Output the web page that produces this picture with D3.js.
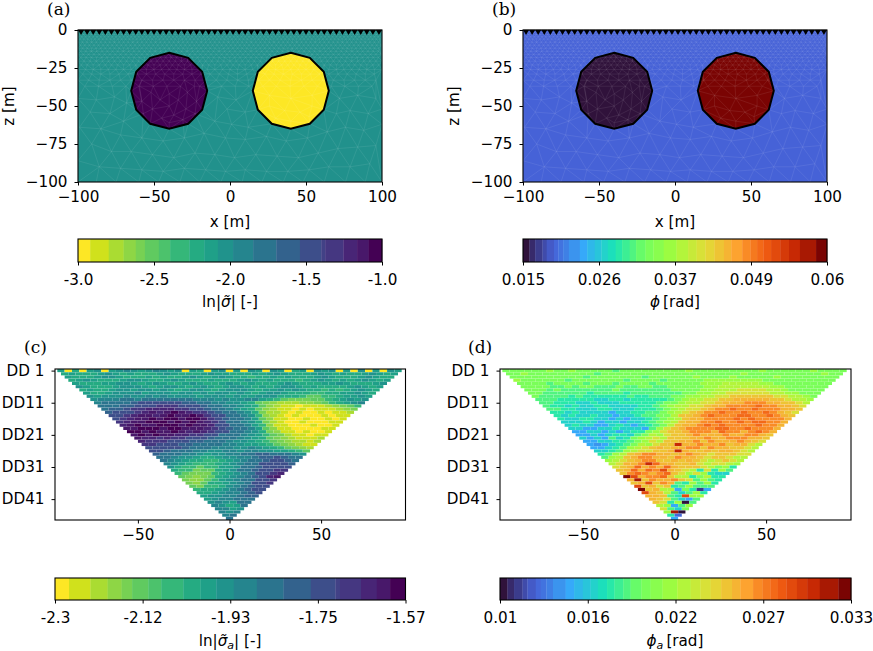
<!DOCTYPE html>
<html><head><meta charset="utf-8">
<script src="https://cdn.jsdelivr.net/npm/d3@7"></script>
<style>
html,body{margin:0;padding:0;background:#fff}
svg{display:block}
text{font-family:"DejaVu Sans",sans-serif;fill:#000}
</style></head><body><svg id="c" width="873" height="651"></svg>
<script>
// ---------- data ----------
const modelXTicks=[-100,-50,0,50,100];
const modelZTicks=[0,-25,-50,-75,-100];
const pseudoXTicks=[-50,0,50];
const levelTicks=[1,11,21,31,41];
const levelLabels=["DD 1","DD11","DD21","DD31","DD41"];
const sigmaBarLabels=["-3.0","-2.5","-2.0","-1.5","-1.0"];
const phiBarLabels=["0.015","0.026","0.037","0.049","0.06"];
const sigmaABarLabels=["-2.3","-2.12","-1.93","-1.75","-1.57"];
const phiABarLabels=["0.01","0.016","0.022","0.027","0.033"];
const sigmaRange=[-3,-1], phiRange=[0.015,0.06], sigmaARange=[-2.3,-1.57], phiARange=[0.01,0.033];
const sigmaBackground=-2, phiBackground=0.0195;
const bodyLeftSigma=-1, bodyRightSigma=-3, bodyLeftPhi=0.015, bodyRightPhi=0.06;
const turboStops=["#30123b","#4662d7","#36aaf9","#1ae4b6","#72fe5e","#a4fc3c","#e1dd37","#fda531","#f05b12","#c42503","#7a0403"];
const viridisEdges=[.04,.101,.15,.19,.22,.266,.303,.366,.415,.46,.51,.576,.652,.73,.80,.813,.873,.918,.956];
const turboEdges=[.021,.04,.064,.078,.102,.116,.132,.151,.187,.211,.236,.258,.279,.305,.326,.351,.372,.403,.429,.463,.505,.543,.571,.6,.63,.661,.685,.721,.748,.77,.791,.816,.846,.875,.911,.964];
const bodyLeft=[[-40,-15],[-27.5,-18.3],[-18.3,-27.5],[-15,-40],[-18.3,-52.5],[-27.5,-61.7],[-40,-65],[-52.5,-61.7],[-61.7,-52.5],[-65,-40],[-61.7,-27.5],[-52.5,-18.3]];
const bodyRight=[[40,-15],[52.5,-18.3],[61.7,-27.5],[65,-40],[61.7,-52.5],[52.5,-61.7],[40,-65],[27.5,-61.7],[18.3,-52.5],[15,-40],[18.3,-27.5],[27.5,-18.3]];
const electrodes=[-98,-94,-90,-86,-82,-78,-74,-70,-66,-62,-58,-54,-50,-46,-42,-38,-34,-30,-26,-22,-18,-14,-10,-6,-2,2,6,10,14,18,22,26,30,34,38,42,46,50,54,58,62,66,70,74,78,82,86,90,94,98];
const meshDepths=[-1.5,-3,-4.5,-6,-8,-10,-12,-14,-16,-18,-20.5,-23,-26,-29,-33,-37];
const meshSteps=[2.5,2.5,2.5,2.5,3,3,3,3.5,3.5,3.5,4,4,5,6,7,9];
const meshFar=[[-100,-45],[-88,-46],[-76,-44],[-68,-48],[-8,-44],[4,-46],[-2,-52],[10,-54],[72,-45],[84,-43],[96,-45],
[-92,-54],[-79,-55],[-70,-60],[-10,-60],[1,-62],[12,-64],[70,-55],[79,-53],[91,-55],[100,-52],
[-99,-64],[-85,-65],[-72,-69],[-58,-71],[-44,-73],[-30,-71],[-17,-68],[-3,-71],[10,-72],[24,-70],[37,-73],[51,-71],[64,-67],[76,-64],[88,-66],[100,-62],
[-91,-75],[-78,-80],[-65,-80],[-51,-82],[-37,-84],[-23,-81],[-10,-82],[3,-84],[17,-82],[31,-83],[45,-84],[58,-81],[71,-78],[84,-77],[96,-76],
[-100,-86],[-86,-90],[-72,-91],[-58,-92],[-44,-93],[-30,-91],[-16,-92],[-3,-93],[10,-92],[24,-93],[38,-93],[52,-92],[65,-90],[79,-90],[92,-88],
[-100,-100],[-88,-100],[-75,-100],[-60,-100],[-47,-100],[-33,-100],[-20,-100],[-6,-100],[8,-100],[21,-100],[35,-100],[48,-100],[62,-100],[76,-100],[89,-100],[100,-100]];
const meshInner=[[-20,-37],[-60,-37],[-28,-41],[-52,-41],[-40,-42],[-34,-46],[-46,-46],[-22,-47],[-58,-47],[-40,-50],[-29,-52],[-51,-52],[-23,-55],[-57,-55],[-37,-56],[-45,-58],[-31,-59],[-40,-61],
[26,-43],[54,-43],[40,-45],[26,-50],[54,-50],[36,-53],[46,-54],[30,-58],[40,-60],[52,-57]];
const sigmaRows=[
"iahaijaijk jijkjijaih aijaiajiaj iahiajijai ajaiaji",
"hihhhijihi hhhijihhhi jiihhhihij ihhhijihih hijihi",
"ihhhijjihh hihihhijih ijihhghhih ihhhijihhh ijihh",
"hijihhhijj ihhijihhhi hhhijihihh hghijihihi jihi",
"ihhhiijjih ijihhijihh ijihihhhij ihhhiijihh hij",
"jihhhijjji hijjihijih ijjihihijj ihihhhhiji hi",
"hihhijjijj ijihijjihi jjjihiijij ihhghghiji h",
"ihhijjjkij jjijjijijj ijihijjihh hgghhiijih",
"jijjjkjjkj kjjjjijjji jiijjjhhhg ffgghiiji",
"jkkkllklml lmllkkkjkj jkkihgfeee ffghijij",
"kllmmnooop oonnmlkkjj ihfedcccdd efghijk",
"lmmnnoppqq qpponmlkkj ihfdcbbabb bcdefg",
"mnnoqqrrrr qqponmlkji hfdcbbabab bbcde",
"noopqrsrst srqqonmlkj heccbabaab abbc",
"opqrssrsts stsqpomlkj gdcbabaaab abb",
"pqrsststts ttsqpnmlki fdbbaabaab ab",
"qrsstttsts tsrqomlkjh ecbaabaaab b",
"rstsstttst ssrpomlkig dbbaaabaab",
"sstttsttss srqonmlkif dbbaaaabb",
"ttstsstsrs rqpommkjhe dbbabaab",
"ststssrrqq pommlkjigf ecbbabb",
"srrqrqqppo nmmlkjihfe dcbbbc",
"rqqqpponnm mlkjjihgfe dccbc",
"qqpponnmml lkkjiihgfe dcbb",
"popoonmmlk kkjjkjihgf edc",
"oonmmlkkjj kkjkkjjiih gf",
"nmmlkkjijj kklmnnmllk j",
"mlkjjihhij jkkmnnonml",
"lkjihhgghi jklmnoonm",
"kjihggghij klmoopon",
"jhggfggiij lmnopoo",
"hggeffhijl mnopqq",
"gfeeeghijk mopqr",
"fedefhijkl nprs",
"eddfgijklm opq",
"edfhhijklo pq",
"fegghjklno p",
"ghhijklnoo",
"hhijkkmno",
"ijjkkmnn",
"ijkklmm",
"jkjilm",
"kjhil",
"kkij",
"kjk",
"kl",
"l"];
const phiRows=[
"iiiiiijiij iiiiihiiii iiiiijiiii iiiiijiiii iijiiii",
"iijiiiiiii iihiiiiiii iiiiiiiiii iijiiiiiii iiijii",
"iiiiiiiiii hiiiiiiihi iiiiijiiii jiiiiijiii iiiii",
"jiiiiiihii iiiiihiiii hiiiiijjjj jjjjiiiiii iiii",
"iiiihiiiih iiihiiiihi iiiiijjjkk kkkjjiiiii iii",
"iiiihhihii hhhihhiihh iiiiijjkkk kkkkjjiiii ii",
"iiihihhhhh hhihhhhhhh iiiijjkkkl lllkkjiiii i",
"iihhhhhhgh hhhghhhhhh hiijjkklll lllkkjjiii",
"ihhhhghggg ggghgghhhi ijjkkllmmm mmmllkkji",
"hhhgggggff ggfggggghi jkkllmmnnn nnmmlkkj",
"hhgggffgff fggggghiij kkllmnnnoo onnmmlk",
"hggfgffggf fffgghijkk llmnnoooop oonnml",
"hhggfffggf ffggghijkl lmnoopoopo oonnm",
"ggfgffffef fgghhijklm noopoopoop onml",
"gfgffgffef fghhiikmmn opoooppoop onm",
"gffggffefe ffghijkmnn oooopopooo on",
"fffgfeffef fghijkmnno opoopoppoo n",
"fgffeefgfe fghikmnnop opoooopoon",
"ffeeffgfff ehjlmnoooo ppoopooon",
"eeffefefgg ijlmmnooon poonopon",
"eefefggfhi kjlmmnonnn onnoonm",
"fefehfgijk lkmmmnnonn ooonnm",
"eeffgghijl kmmnnomonn nonml",
"edefghikjl mmrnnonnom nnlk",
"eefghjklmn mnnoomonnm mlk",
"ffghjkllmm nrnmmnmnnm lk",
"ghjkmnoonn mnonmlmmml l",
"hjkmnoonnm onnmlmmlkk",
"jklmnoommn mnmlklmlk",
"klnnorpnnm mnlkllkj",
"lmnpnonpnm mmlkijg",
"mnpnpoqnml kglgjh",
"moponopmlj ljgff",
"tqnoopmkkg ikgg",
"nsmonnomlh jhg",
"mnqmonhgjh jg",
"qmnlmghjhh h",
"tmnkkeigbe",
"qnmkhfhjg",
"nnmhgqjj",
"nmlhfeh",
"mlgjah",
"kjehj",
"lhfi",
"jsa",
"gc",
"e"];
// ---------- helpers ----------
const svg=d3.select("#c");
const FS=15.2;
const turbo=d3.piecewise(d3.interpolateRgb,turboStops);
const viridisR=t=>d3.interpolateViridis(1-t);
function bandsOf(edges,interp){
  const all=[0,...edges,1];
  const n=all.length-1;
  return {edges, all, colors:d3.pairs(all).map(([a,b],i)=>interp(i===0?0:i===n-1?1:(a+b)/2))};
}
const viridisBands=bandsOf(viridisEdges,viridisR);
const turboBands=bandsOf(turboEdges,turbo);
function colorScale(range,b){
  const frac=d3.scaleLinear(range,[0,1]);
  const th=d3.scaleThreshold(b.edges,b.colors);
  return v=>th(frac(v));
}
function styleAxis(g){
  g.select(".domain").remove();
  g.selectAll("line").attr("stroke","#000").attr("stroke-width",1);
  g.selectAll("text").style("font-size",FS+"px").attr("fill","#000");
}
const minus=d=>String(d).replace("-","\u2212");
function spines(x0,y0,x1,y1){
  svg.append("rect").attr("x",x0).attr("y",y0).attr("width",x1-x0).attr("height",y1-y0)
    .attr("fill","none").attr("stroke","#000").attr("stroke-width",1.1);
}
function panelLabel(t,x,y){
  svg.append("text").attr("x",x).attr("y",y).text(t)
    .style("font-family","'DejaVu Serif',serif").style("font-size","17px");
}
function modelPanel(x0,opts){
  const x=d3.scaleLinear([-100,100],[x0,x0+304]);
  const z=d3.scaleLinear([0,-100],[30,182]);
  const g=svg.append("g");
  g.append("rect").attr("x",x0).attr("y",30).attr("width",304).attr("height",152).attr("fill",opts.color(opts.bg));
  const clipId="cl"+x0;
  svg.append("clipPath").attr("id",clipId).append("rect").attr("x",x0).attr("y",30).attr("width",304).attr("height",152);
  const poly=d3.line().x(d=>x(d[0])).y(d=>z(d[1])).curve(d3.curveLinearClosed);
  g.append("path").attr("d",poly(bodyLeft)).attr("fill",opts.color(opts.left));
  g.append("path").attr("d",poly(bodyRight)).attr("fill",opts.color(opts.right));
  const fine=meshDepths.flatMap((dz,j)=>d3.range(-100+(j%2)*meshSteps[j]/2,100.1,meshSteps[j]).map(m=>[m,dz]));
  const nodes=[...electrodes.map(e=>[e,0]),...fine,...meshFar,...meshInner,...bodyLeft,...bodyRight];
  const del=d3.Delaunay.from(nodes,d=>x(d[0]),d=>z(d[1]));
  g.append("path").attr("d",del.render()).attr("fill","none")
    .attr("stroke","#fff").attr("stroke-opacity",opts.meshOpacity).attr("stroke-width",0.5).attr("clip-path",`url(#${clipId})`);
  g.append("path").attr("d",poly(bodyLeft)).attr("fill","none").attr("stroke","#000").attr("stroke-width",2);
  g.append("path").attr("d",poly(bodyRight)).attr("fill","none").attr("stroke","#000").attr("stroke-width",2);
  const tri=d3.symbol().type(d3.symbolTriangle).size(16);
  g.selectAll(".el").data(electrodes).join("path").attr("class","el")
    .attr("d",tri).attr("transform",d=>`translate(${x(d)},${z(0)+1.5}) rotate(180)`).attr("fill","#000");
  svg.append("g").attr("transform","translate(0,182)").call(d3.axisBottom(x).tickValues(modelXTicks).tickSize(3.5).tickPadding(6).tickFormat(minus)).call(styleAxis);
  svg.append("g").attr("transform",`translate(${x0},0)`).call(d3.axisLeft(z).tickValues(modelZTicks).tickSize(3.5).tickPadding(7).tickFormat(minus)).call(styleAxis);
  spines(x0,30,x0+304,182);
  svg.append("text").attr("x",x0+152).attr("y",227).attr("text-anchor","middle").style("font-size",FS+"px").text("x [m]");
  svg.append("text").attr("transform",`translate(${x0-64},106) rotate(-90)`).attr("text-anchor","middle").style("font-size",FS+"px").text("z [m]");
}
function pseudoPanel(x0,x1,zero,rows,range,bands){
  const x=d3.scaleLinear([0,50],[zero,zero+91.6]);
  const y=d3.scaleLinear([0.5,47.5],[369,520]);
  const col=colorScale(range,bands);
  const val=d3.scaleLinear([0,19],range);
  const cells=rows.flatMap((s,ri)=>{
    const str=s.replace(/ /g,""); const n=str.length;
    return Array.from(str,(ch,i)=>({r:ri+1,m:(i-(n-1)/2)*4,v:val(ch.charCodeAt(0)-97)}));
  });
  const w=x(4.04)-x(0), h=y(2)-y(1);
  svg.append("g").selectAll("rect").data(cells).join("rect")
    .attr("x",d=>x(d.m)-w/2+0.08).attr("y",d=>y(d.r)-h/2+0.06)
    .attr("width",w-0.16).attr("height",h-0.12).attr("fill",d=>col(d.v));
  svg.append("g").attr("transform","translate(0,520)").call(d3.axisBottom(x).tickValues(pseudoXTicks).tickSize(3.5).tickPadding(6).tickFormat(minus)).call(styleAxis);
  svg.append("g").attr("transform",`translate(${x0},0)`).call(d3.axisLeft(y).tickValues(levelTicks).tickSize(3.5).tickPadding(7).tickFormat((d,i)=>levelLabels[i])).call(styleAxis);
  spines(x0,369,x1,520);
}
function colorbar(x0,x1,y0,y1,bands,labels,titleParts,tx,ty){
  const f=d3.scaleLinear([0,1],[x0,x1]);
  const pairs=d3.pairs(bands.all);
  svg.append("g").selectAll("rect").data(pairs).join("rect")
    .attr("x",d=>f(d[0])).attr("y",y0).attr("width",d=>f(d[1])-f(d[0])+0.3).attr("height",y1-y0)
    .attr("fill",(d,i)=>bands.colors[i]);
  svg.append("g").attr("transform",`translate(0,${y1})`)
    .call(d3.axisBottom(f).tickValues(d3.range(labels.length).map(i=>i/(labels.length-1))).tickSize(3.5).tickPadding(9).tickFormat((d,i)=>labels[i])).call(styleAxis);
  spines(x0,y0,x1,y1);
  const t=svg.append("text").attr("x",tx).attr("y",ty).attr("text-anchor","middle").style("font-size",FS+"px");
  titleParts.forEach(p=>{
    const s=t.append("tspan").text(p.t);
    if(p.i) s.style("font-style","italic");
    if(p.sub) s.attr("dy",3).style("font-size","11px").style("font-style","italic");
    if(p.up) s.attr("dy",-3);
  });
}
// ---------- draw ----------
modelPanel(78,{color:v=>viridisR((v-sigmaRange[0])/(sigmaRange[1]-sigmaRange[0])),bg:sigmaBackground,left:bodyLeftSigma,right:bodyRightSigma,meshOpacity:.16});
modelPanel(523,{color:v=>turbo((v-phiRange[0])/(phiRange[1]-phiRange[0])),bg:phiBackground,left:bodyLeftPhi,right:bodyRightPhi,meshOpacity:.16});
pseudoPanel(55,405.5,229.5,sigmaRows,sigmaARange,viridisBands);
pseudoPanel(500,851,674.5,phiRows,phiARange,turboBands);
colorbar(78,382,239,262,viridisBands,sigmaBarLabels,[{t:"ln|"},{t:"\u03C3\u0303",i:1},{t:"| [-]"}],230,307);
colorbar(523,827,239,262,turboBands,phiBarLabels,[{t:"\u03D5",i:1},{t:"\u2009[rad]"}],675,307);
colorbar(55,405.5,578,600,viridisBands,sigmaABarLabels,[{t:"ln|"},{t:"\u03C3\u0303",i:1},{t:"a",sub:1},{t:"| [-]",up:1}],230,646);
colorbar(500,851,578,600,turboBands,phiABarLabels,[{t:"\u03D5",i:1},{t:"a",sub:1},{t:"\u2009[rad]",up:1}],675,646);
panelLabel("(a)",47,15);
panelLabel("(b)",492,15);
panelLabel("(c)",24,353);
panelLabel("(d)",468,353);
</script></body></html>
